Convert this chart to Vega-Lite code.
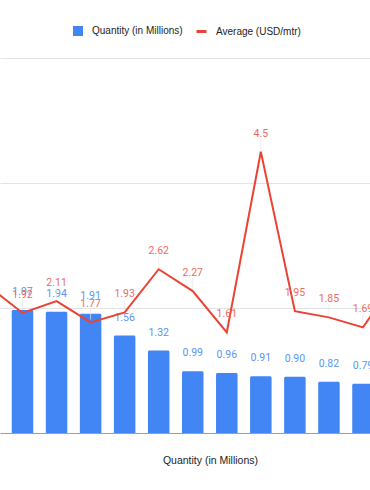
{
  "$schema": "https://vega.github.io/schema/vega-lite/v6.json",
  "width": 370,
  "height": 375,
  "autosize": {"type": "none"},
  "padding": {"left": 0, "top": 58, "right": 0, "bottom": 57},
  "background": "white",
  "config": {
    "view": {"stroke": null},
    "font": "Liberation Sans"
  },
  "data": {
    "values": [
      {"i": -1, "qty": null, "avg": 2.35},
      {"i": 0, "qty": 1.97, "avg": 1.92},
      {"i": 1, "qty": 1.94, "avg": 2.11},
      {"i": 2, "qty": 1.91, "avg": 1.77},
      {"i": 3, "qty": 1.56, "avg": 1.93},
      {"i": 4, "qty": 1.32, "avg": 2.62},
      {"i": 5, "qty": 0.99, "avg": 2.27},
      {"i": 6, "qty": 0.96, "avg": 1.61},
      {"i": 7, "qty": 0.91, "avg": 4.5},
      {"i": 8, "qty": 0.90, "avg": 1.95},
      {"i": 9, "qty": 0.82, "avg": 1.85},
      {"i": 10, "qty": 0.79, "avg": 1.69},
      {"i": 11, "qty": null, "avg": 2.48}
    ]
  },
  "encoding": {
    "x": {
      "field": "i",
      "type": "quantitative",
      "scale": {"domain": [-0.661, 10.206], "nice": false, "zero": false, "padding": 0},
      "axis": {
        "title": "Quantity (in Millions)",
        "labels": false,
        "ticks": false,
        "grid": false,
        "domainColor": "#9e9e9e",
        "domainWidth": 1,
        "titleX": 210,
        "titleY": 22,
        "titleFontSize": 10.5,
        "titleFontWeight": "normal",
        "titleColor": "#222222",
        "titleFont": "Liberation Sans"
      }
    }
  },
  "layer": [
    {
      "mark": {"type": "bar", "orient": "vertical", "width": 21.5, "clip": true, "cornerRadiusTopLeft": 1.5, "cornerRadiusTopRight": 1.5},
      "transform": [{"filter": "datum.qty != null"}],
      "encoding": {
        "y": {
          "field": "qty",
          "type": "quantitative",
          "scale": {"domain": [0, 6], "nice": false},
          "axis": {"title": null, "labels": false, "ticks": false, "domain": false, "grid": true, "values": [2, 4, 6], "gridColor": "#e3e3e3", "gridWidth": 1}
        },
        "y2": {"datum": 0},
        "color": {
          "datum": "Quantity (in Millions)",
          "type": "nominal",
          "scale": {"range": ["#4285f4"]},
          "legend": {
            "title": null,
            "orient": "none",
            "legendX": 72,
            "legendY": -33,
            "padding": 0,
            "symbolType": "square",
            "symbolSize": 100,
            "labelFontSize": 10,
            "labelColor": "#222222",
            "labelFont": "Liberation Sans",
            "labelOffset": 8
          }
        }
      }
    },
    {
      "mark": {"type": "text", "dy": -18, "baseline": "middle", "fontSize": 10.5, "font": "Roboto", "color": "#5a95f5", "clip": true},
      "transform": [{"filter": "datum.qty != null"}],
      "encoding": {
        "y": {"field": "qty", "type": "quantitative"},
        "text": {"field": "qty", "type": "quantitative", "format": ".2f"}
      }
    },
    {
      "mark": {"type": "tick", "orient": "vertical", "size": 10, "thickness": 1, "yOffset": -8, "color": "#e6e6e6", "clip": true},
      "encoding": {
        "y": {"field": "avg", "type": "quantitative"}
      }
    },
    {
      "mark": {"type": "line", "strokeWidth": 2, "clip": true},
      "encoding": {
        "y": {"field": "avg", "type": "quantitative"},
        "stroke": {
          "datum": "Average (USD/mtr)",
          "type": "nominal",
          "scale": {"range": ["#ea4335"]},
          "legend": {
            "title": null,
            "orient": "none",
            "legendX": 195,
            "legendY": -33,
            "padding": 0,
            "symbolType": "stroke",
            "symbolSize": 100,
            "symbolStrokeWidth": 3,
            "labelFontSize": 10,
            "labelColor": "#222222",
            "labelFont": "Liberation Sans",
            "labelOffset": 8
          }
        }
      }
    },
    {
      "mark": {"type": "text", "dy": -18, "baseline": "middle", "fontSize": 10.5, "font": "Roboto", "color": "#ec6b60", "clip": true},
      "transform": [{"filter": "datum.i >= 0 && datum.i <= 10"}],
      "encoding": {
        "y": {"field": "avg", "type": "quantitative"},
        "text": {"field": "avg", "type": "quantitative", "format": ".3~"}
      }
    }
  ]
}
